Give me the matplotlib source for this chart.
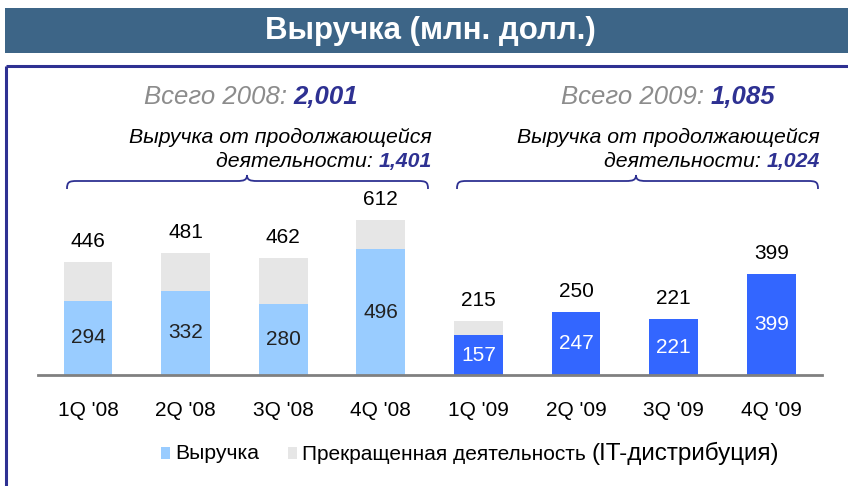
"""Revenue by quarter (2008-2009), stacked: continuing revenue + discontinued IT distribution."""

import matplotlib

matplotlib.use("Agg")
import matplotlib.pyplot as plt
from matplotlib.offsetbox import AnnotationBbox, HPacker, TextArea
from matplotlib.patches import PathPatch, Rectangle
from matplotlib.path import Path

plt.rcParams["font.family"] = ["Liberation Sans", "DejaVu Sans"]

quarters = ["1Q '08", "2Q '08", "3Q '08", "4Q '08", "1Q '09", "2Q '09", "3Q '09", "4Q '09"]
revenue = [294, 332, 280, 496, 157, 247, 221, 399]
discontinued = [152, 149, 182, 116, 58, 3, 0, 0]
totals = [446, 481, 462, 612, 215, 250, 221, 399]
years = ["2008", "2009"]
year_totals = ["2,001", "1,085"]
year_continuing = ["1,401", "1,024"]

LIGHT_BLUE = "#99CCFF"
BLUE = "#3366FF"
GREY = "#E6E6E6"
NAVY = "#2E3192"
BAND = "#3D6587"

W, H = 848, 486
fig = plt.figure(figsize=(W / 100, H / 100), dpi=100)

# overlay in pixel coords (y down) for decorations
ov = fig.add_axes([0, 0, 1, 1])
ov.set_xlim(0, W); ov.set_ylim(H, 0); ov.axis("off")
ov.add_patch(Rectangle((5, 8), W - 5, 45, color=BAND, lw=0))
ov.text(430, 31, "Выручка (млн. долл.)", color="white", fontsize=22.5, fontweight="bold",
        ha="center", va="center")
ov.plot([6, W], [66, 66], color=NAVY, lw=2.2, solid_capstyle="butt")
ov.plot([6, 6], [66, H], color=NAVY, lw=2.2, solid_capstyle="butt")

# bar axes
ax = fig.add_axes([38 / W, (H - 375) / H, (822 - 38) / W, 205 / H])
ax.patch.set_alpha(0)
x = list(range(len(quarters)))
colors = [LIGHT_BLUE if q.endswith("08") else BLUE for q in quarters]
ax.bar(x, revenue, width=0.5, color=colors, zorder=2)
ax.bar(x, discontinued, bottom=revenue, width=0.5, color=GREY, zorder=2)
lift = matplotlib.transforms.ScaledTranslation(0, 11 / 100, fig.dpi_scale_trans)
for i in x:
    ax.text(i, totals[i], str(totals[i]), ha="center", va="bottom", fontsize=15,
            transform=ax.transData + lift)
    ax.text(i, revenue[i] / 2, str(revenue[i]), ha="center", va="center", fontsize=15,
            color="#222222" if colors[i] == LIGHT_BLUE else "white")
ax.set_xlim(-0.512, 7.52)
ax.set_ylim(0, 810)
ax.set_xticks(x)
ax.set_xticklabels(quarters, fontsize=15)
ax.tick_params(axis="x", length=0, pad=19)
ax.set_yticks([])
for s in ["top", "left", "right"]:
    ax.spines[s].set_visible(False)
ax.spines["bottom"].set_color("#808080")
ax.spines["bottom"].set_linewidth(2)


def rich(parts, xy, align):
    boxes = [TextArea(s, textprops=p) for s, p in parts]
    pack = HPacker(children=boxes, align="baseline", pad=0, sep=0)
    ov.add_artist(AnnotationBbox(pack, xy, xycoords="data", box_alignment=align,
                                 frameon=False, pad=0))


def brace(x0, x1, xm, y, yend, ytip):
    verts = [(x0, yend), (x0, y + 1), (x0 + 2, y), (x0 + 10, y), (xm - 10, y),
             (xm - 3, y), (xm, y - 1), (xm, ytip), (xm, y - 1), (xm + 3, y), (xm + 10, y),
             (x1 - 10, y), (x1 - 2, y), (x1, y + 1), (x1, yend)]
    codes = [Path.MOVETO] + [Path.CURVE4] * 3 + [Path.LINETO] + [Path.CURVE4] * 6 \
        + [Path.LINETO] + [Path.CURVE4] * 3
    ov.add_patch(PathPatch(Path(verts, codes), fill=False, ec=NAVY, lw=1.3))


grey_it = dict(color="#8C8C8C", fontsize=18.5, style="italic")
blue_b = dict(color=NAVY, fontsize=18.5, style="italic", fontweight="bold")
blk_it = dict(color="black", fontsize=15.3, style="italic")
blue_s = dict(color=NAVY, fontsize=15.3, style="italic", fontweight="bold")

for k, (cx, right, b0, b1, bm) in enumerate([(251, 432, 67, 428, 247), (668, 820, 457, 818, 636)]):
    rich([(f"Всего {years[k]}: ", grey_it), (year_totals[k], blue_b)], (cx, 97), (0.5, 0.5))
    ov.text(right, 137, "Выручка от продолжающейся", ha="right", va="center", **blk_it)
    rich([("деятельности: ", blk_it), (year_continuing[k], blue_s)], (right, 161), (1, 0.5))
    brace(b0, b1, bm, 181, 189, 175)

# legend
ov.add_patch(Rectangle((161, 447), 9, 12, color=LIGHT_BLUE, lw=0))
ov.text(175, 453, "Выручка", va="center", fontsize=15.2)
ov.add_patch(Rectangle((288, 447), 9, 12, color=GREY, lw=0))
rich([("Прекращенная деятельность ", dict(fontsize=15)), ("(IT-дистрибуция)", dict(fontsize=17.5))],
     (302, 453), (0, 0.5))

fig.savefig("out.png", dpi=100, facecolor="white")
